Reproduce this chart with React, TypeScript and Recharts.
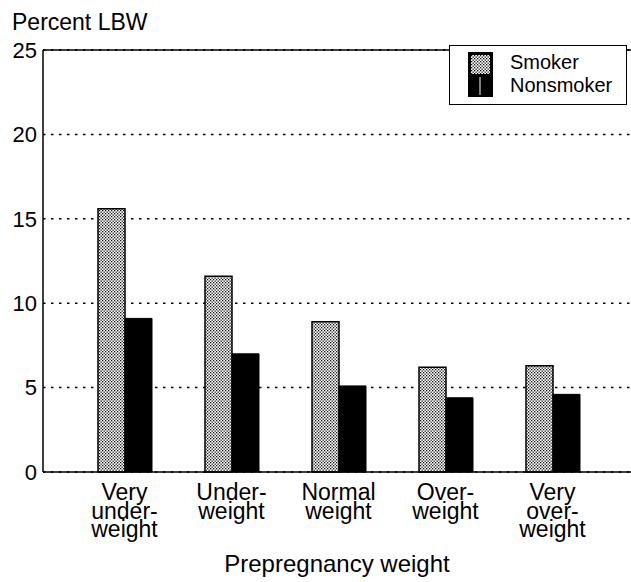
import React from 'react';
import { BarChart, Bar, XAxis, YAxis, CartesianGrid, ReferenceLine, Legend } from 'recharts';

const categories = ['Very\nunder-\nweight', 'Under-\nweight', 'Normal\nweight', 'Over-\nweight', 'Very\nover-\nweight'];
const smoker = [15.6, 11.6, 8.9, 6.2, 6.3];
const nonsmoker = [9.1, 7.0, 5.1, 4.4, 4.6];
const yTicks = [0, 5, 10, 15, 20, 25];

const data = categories.map((name, i) => ({ name, smoker: smoker[i], nonsmoker: nonsmoker[i] }));

const font = '"Liberation Sans", Arial, Helvetica, sans-serif';

// dotted screen used for the smoker bars
const Stipple = ({ id }: { id: string }) => (
  <pattern id={id} width={3} height={3} patternUnits="userSpaceOnUse">
    <rect width={3} height={3} fill="#fff" />
    <rect x={0} y={0} width={1.3} height={1.3} fill="#111" />
    <rect x={1.5} y={1.5} width={1.3} height={1.3} fill="#111" />
  </pattern>
);

const CategoryTick = ({ x, y, payload }: any) => {
  const lines = String(payload.value).split('\n');
  return (
    <text x={x} y={y} textAnchor="middle" fontSize={23} fill="#000" fontFamily={font}>
      {lines.map((l, i) => (
        <tspan key={i} x={x} dy={i === 0 ? 28 : 18.5}>
          {l}
        </tspan>
      ))}
    </text>
  );
};

const LegendBox = () => (
  <div
    style={{
      width: 178,
      height: 60,
      border: '1.5px solid #000',
      background: '#fff',
      boxSizing: 'border-box',
      position: 'relative',
      fontFamily: font,
      color: '#000',
    }}
  >
    <svg width={25} height={45} style={{ position: 'absolute', left: 18, top: 6 }}>
      <defs>
        <Stipple id="stipple-legend" />
      </defs>
      <rect x={0} y={0} width={25} height={45} fill="#000" />
      <rect x={3} y={3} width={19} height={19} fill="url(#stipple-legend)" />
      <line x1={12} y1={25} x2={12} y2={43} stroke="#fff" strokeWidth={1} />
    </svg>
    <div style={{ position: 'absolute', left: 60, top: 5, fontSize: 20, lineHeight: '23px' }}>
      Smoker
      <br />
      Nonsmoker
    </div>
  </div>
);

export default function App() {
  return (
    <div style={{ position: 'absolute', left: 0, top: 0, width: 631, height: 582, background: '#fff' }}>
      <div
        style={{
          position: 'absolute',
          left: 12,
          top: 11,
          fontSize: 23,
          lineHeight: '23px',
          fontFamily: font,
          color: '#000',
          zIndex: 2,
        }}
      >
        Percent LBW
      </div>
      <BarChart
        width={631}
        height={582}
        data={data}
        margin={{ top: 50, right: 0, bottom: 0, left: 0 }}
        barGap={0}
        barSize={27}
        style={{ fontFamily: font }}
      >
        <defs>
          <Stipple id="stipple" />
        </defs>
        <CartesianGrid vertical={false} stroke="#000" strokeWidth={1.5} strokeDasharray="2.5 5.5" />
        <XAxis
          dataKey="name"
          height={110}
          padding={{ left: 28, right: 25 }}
          tickLine={false}
          tickSize={0}
          tickMargin={0}
          axisLine={{ stroke: '#000', strokeWidth: 1.5 }}
          tick={<CategoryTick />}
          interval={0}
          label={{ value: 'Prepregnancy weight', position: 'insideBottom', offset: 10, fontSize: 24, fill: '#000' }}
        />
        <YAxis
          width={43}
          domain={[0, 25]}
          ticks={yTicks}
          interval={0}
          tickLine={false}
          tickSize={0}
          tickMargin={6}
          axisLine={{ stroke: '#000', strokeWidth: 1.5 }}
          tick={{ fontSize: 22, fill: '#000' }}
        />
        <ReferenceLine y={25} stroke="#000" strokeWidth={1.5} />
        <Legend
          layout="horizontal"
          verticalAlign="middle"
          align="center"
          content={<LegendBox />}
          wrapperStyle={{ position: 'absolute', left: 449, top: 45, width: 178, height: 60 }}
        />
        <Bar dataKey="smoker" name="Smoker" fill="url(#stipple)" stroke="#000" strokeWidth={1.5} isAnimationActive={false} />
        <Bar dataKey="nonsmoker" name="Nonsmoker" fill="#000" stroke="#000" strokeWidth={1} isAnimationActive={false} />
      </BarChart>
    </div>
  );
}
